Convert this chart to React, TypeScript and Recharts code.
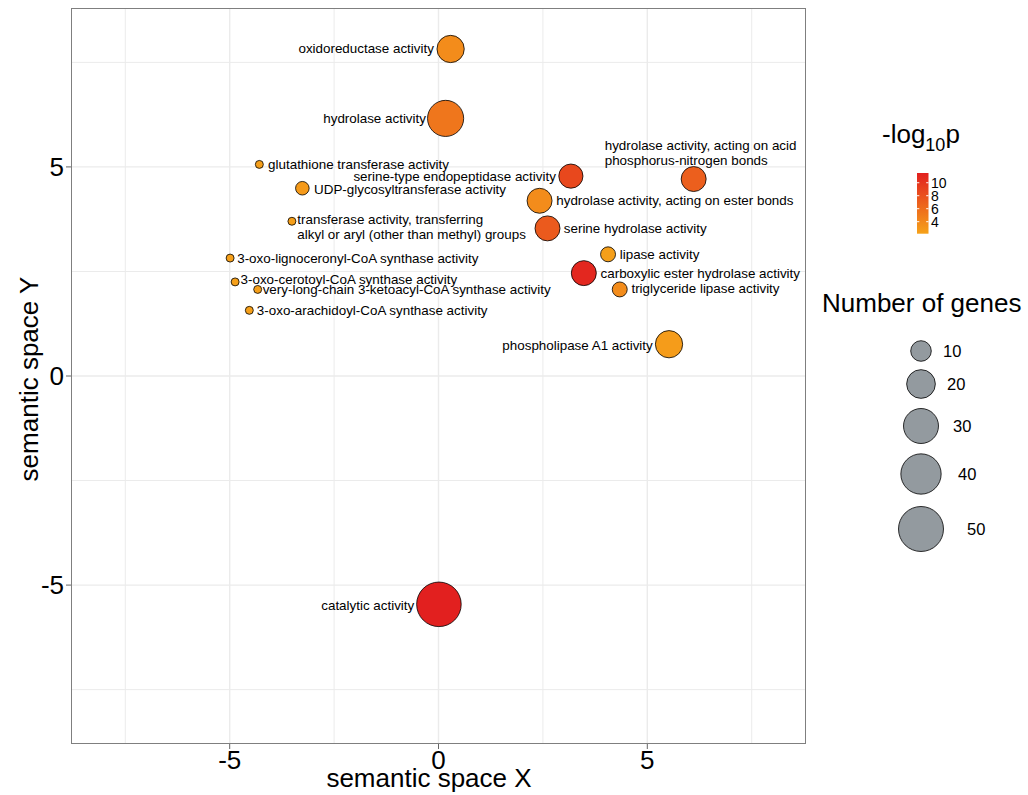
import React from 'react';
import { ScatterChart, Scatter, XAxis, YAxis, ZAxis, CartesianGrid, Cell } from 'recharts';

const FONT = '"Liberation Sans", Arial, Helvetica, sans-serif';

// Enriched GO molecular-function terms, reduced to a 2-D semantic space
const terms = [
  'oxidoreductase activity',
  'hydrolase activity',
  'glutathione transferase activity',
  'serine-type endopeptidase activity',
  'UDP-glycosyltransferase activity',
  'hydrolase activity, acting on ester bonds',
  'transferase activity, transferring\nalkyl or aryl (other than methyl) groups',
  'serine hydrolase activity',
  '3-oxo-lignoceronyl-CoA synthase activity',
  'lipase activity',
  'carboxylic ester hydrolase activity',
  '3-oxo-cerotoyl-CoA synthase activity',
  'very-long-chain 3-ketoacyl-CoA synthase activity',
  'triglyceride lipase activity',
  '3-oxo-arachidoyl-CoA synthase activity',
  'hydrolase activity, acting on acid\nphosphorus-nitrogen bonds',
  'phospholipase A1 activity',
  'catalytic activity',
];
const semanticX = [0.29, 0.17, -4.29, 3.17, -3.26, 2.42, -3.51, 2.61, -4.99, 4.06, 3.48, -4.87, -4.33, 4.34, -4.53, 6.11, 5.52, 0.01];
const semanticY = [7.82, 6.16, 5.06, 4.78, 4.49, 4.19, 3.7, 3.53, 2.82, 2.91, 2.46, 2.25, 2.07, 2.07, 1.57, 4.71, 0.76, -5.46];
const geneCounts = [18, 32, 1, 14, 4, 15, 1, 15, 1, 5, 15, 1, 1, 5, 1, 15, 18, 49];
const negLog10P = [3.7, 5.3, 2.4, 8.6, 2.7, 3.7, 2.4, 7.3, 2.3, 2.4, 11.0, 2.3, 2.4, 3.7, 2.3, 7.0, 2.6, 11.5];

// Where each term's text label sits (semantic-space units) and which side it hangs from
const labelX = [-0.11, -0.3, -4.08, 2.81, -2.98, 2.82, -3.38, 3.0, -4.82, 4.34, 3.88, -4.74, -4.21, 4.62, -4.35, 3.98, 5.13, -0.58];
const labelY = [7.82, 6.15, 5.06, 4.78, 4.47, 4.19, 3.56, 3.53, 2.82, 2.91, 2.45, 2.31, 2.07, 2.09, 1.57, 5.33, 0.73, -5.48];
const labelAnchor = ['end', 'end', 'start', 'end', 'start', 'start', 'start', 'start', 'start', 'start', 'start', 'start', 'start', 'start', 'start', 'start', 'end', 'end'];

// Axis ticks and legend breaks
const majorTicks = [-5, 0, 5];
const minorTicks = [-7.5, -2.5, 2.5, 7.5];
const colorBreaks = [4, 6, 8, 10];
const sizeBreaks = [10, 20, 30, 40, 50];

// Colour scale for -log10 p
const P_RANGE: [number, number] = [2.15, 11.5];
const LOW: [number, number, number] = [246, 162, 26];
const HIGH: [number, number, number] = [226, 32, 31];
const toHex = (c: number[]) => '#' + c.map((v) => Math.round(v).toString(16).padStart(2, '0')).join('');
const pColor = (v: number) => {
  const t = Math.max(0, Math.min(1, (v - P_RANGE[0]) / (P_RANGE[1] - P_RANGE[0])));
  return toHex(LOW.map((l, k) => l + (HIGH[k] - l) * t));
};

// Size scale: gene count -> circle area (px^2)
const GENE_DOMAIN: [number, number] = [1, 50];
const AREA_RANGE: [number, number] = [50, 1590];
const radiusFor = (n: number) => {
  const a = AREA_RANGE[0] + ((n - GENE_DOMAIN[0]) / (GENE_DOMAIN[1] - GENE_DOMAIN[0])) * (AREA_RANGE[1] - AREA_RANGE[0]);
  return Math.sqrt(a / Math.PI);
};

const points = terms.map((term, i) => ({
  term,
  x: semanticX[i],
  y: semanticY[i],
  genes: geneCounts[i],
  color: pColor(negLog10P[i]),
}));

const labels = terms.map((term, i) => ({
  term,
  x: labelX[i],
  y: labelY[i],
  anchor: labelAnchor[i],
}));

const W = 1028;
const H = 795;
const PLOT = { left: 71, top: 8, right: 806, bottom: 744 };

const TermLabel = (props: any) => {
  const { cx, cy, payload } = props;
  if (cx == null || cy == null) return null;
  const lines = String(payload.term).split('\n');
  const lh = 15.6;
  const y0 = cy - ((lines.length - 1) * lh) / 2;
  return (
    <text x={cx} y={y0} textAnchor={payload.anchor} fontSize={13.4} fontFamily={FONT} fill="#000">
      {lines.map((ln, k) => (
        <tspan key={k} x={cx} y={y0 + k * lh} dominantBaseline="central">
          {ln}
        </tspan>
      ))}
    </text>
  );
};

const colorbar = { x: 917, top: 173, bottom: 233.7, width: 11.5 };
const barY = (v: number) =>
  colorbar.bottom - ((v - P_RANGE[0]) / (P_RANGE[1] - P_RANGE[0])) * (colorbar.bottom - colorbar.top);

const sizeKeyCx = 921;
const sizeKeyCy = [351, 384, 426, 474, 529];
const sizeKeyLabelX = [943, 947, 953, 958, 967];

export default function App() {
  return (
    <div style={{ position: 'absolute', left: 0, top: 0, width: W, height: H, background: '#fff', fontFamily: FONT }}>
      <ScatterChart width={W} height={H} margin={{ top: PLOT.top, right: W - PLOT.right, bottom: 0, left: 0 }}>
        <CartesianGrid stroke="#EBEBEB" strokeWidth={1} horizontalValues={minorTicks} verticalValues={minorTicks} />
        <CartesianGrid stroke="#EBEBEB" strokeWidth={1.4} horizontalValues={majorTicks} verticalValues={majorTicks} />
        <XAxis
          type="number"
          dataKey="x"
          domain={[-8.8, 8.8]}
          ticks={majorTicks}
          allowDataOverflow
          height={H - PLOT.bottom}
          axisLine={false}
          tickSize={5}
          tickLine={{ stroke: '#666', strokeWidth: 1 }}
          tick={{ fontSize: 26, fill: '#000', fontFamily: FONT }}
        />
        <YAxis
          type="number"
          dataKey="y"
          domain={[-8.8, 8.8]}
          ticks={majorTicks}
          allowDataOverflow
          width={PLOT.left}
          axisLine={false}
          tickSize={5}
          tickLine={{ stroke: '#666', strokeWidth: 1 }}
          tick={{ fontSize: 26, fill: '#000', fontFamily: FONT }}
        />
        <ZAxis type="number" dataKey="genes" domain={GENE_DOMAIN} range={AREA_RANGE} />
        <Scatter data={points} stroke="#000" strokeWidth={0.8} isAnimationActive={false}>
          {points.map((p, i) => (
            <Cell key={i} fill={p.color} />
          ))}
        </Scatter>
        <Scatter data={labels} shape={TermLabel} isAnimationActive={false} />
      </ScatterChart>

      <svg width={W} height={H} style={{ position: 'absolute', left: 0, top: 0, pointerEvents: 'none' }} fontFamily={FONT}>
        <defs>
          <linearGradient id="pGrad" x1="0" y1="1" x2="0" y2="0">
            <stop offset="0%" stopColor={pColor(P_RANGE[0])} />
            <stop offset="100%" stopColor={pColor(P_RANGE[1])} />
          </linearGradient>
        </defs>
        {/* panel border */}
        <rect
          x={PLOT.left + 0.5}
          y={PLOT.top + 0.5}
          width={PLOT.right - PLOT.left - 1}
          height={PLOT.bottom - PLOT.top - 1}
          fill="none"
          stroke="#7F7F7F"
          strokeWidth={1}
        />
        {/* axis titles */}
        <text x={429} y={787} textAnchor="middle" fontSize={26} fill="#000">
          semantic space X
        </text>
        <text x={38} y={379} textAnchor="middle" fontSize={26} fill="#000" transform="rotate(-90 38 379)">
          semantic space Y
        </text>

        {/* colour legend */}
        <text x={882} y={143} fontSize={26} fill="#000">
          -log
          <tspan fontSize={18} dy={8}>10</tspan>
          <tspan dy={-8}>p</tspan>
        </text>
        <rect x={colorbar.x} y={colorbar.top} width={colorbar.width} height={colorbar.bottom - colorbar.top} fill="url(#pGrad)" />
        {colorBreaks.map((b) => (
          <g key={b}>
            <line x1={colorbar.x} x2={colorbar.x + 2.3} y1={barY(b)} y2={barY(b)} stroke="#fff" strokeWidth={1} />
            <line
              x1={colorbar.x + colorbar.width - 2.3}
              x2={colorbar.x + colorbar.width}
              y1={barY(b)}
              y2={barY(b)}
              stroke="#fff"
              strokeWidth={1}
            />
            <text x={931} y={barY(b)} dominantBaseline="central" fontSize={14} fill="#000">
              {b}
            </text>
          </g>
        ))}

        {/* size legend */}
        <text x={822} y={312} fontSize={26} fill="#000">
          Number of genes
        </text>
        {sizeBreaks.map((n, i) => (
          <g key={n}>
            <circle cx={sizeKeyCx} cy={sizeKeyCy[i]} r={radiusFor(n)} fill="#939A9F" stroke="#000" strokeWidth={0.8} />
            <text x={sizeKeyLabelX[i]} y={sizeKeyCy[i]} dominantBaseline="central" fontSize={16.5} fill="#000">
              {n}
            </text>
          </g>
        ))}
      </svg>
    </div>
  );
}
